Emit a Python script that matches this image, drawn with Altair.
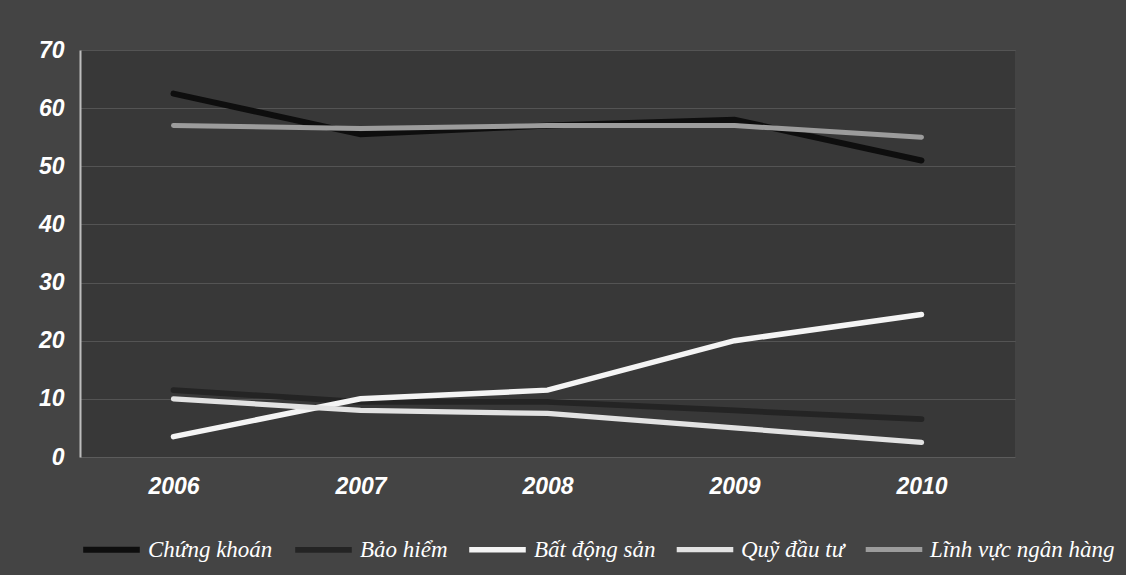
import altair as alt
import pandas as pd

years = ["2006", "2007", "2008", "2009", "2010"]
chung_khoan = [62.5, 55.5, 57, 58, 51]
bao_hiem = [11.5, 9.5, 9.5, 8, 6.5]
bat_dong_san = [3.5, 10, 11.5, 20, 24.5]
quy_dau_tu = [10, 8, 7.5, 5, 2.5]
ngan_hang = [57, 56.5, 57, 57, 55]

series_names = ["Chứng khoán", "Bảo hiểm", "Bất động sản", "Quỹ đầu tư", "Lĩnh vực ngân hàng"]
series_values = [chung_khoan, bao_hiem, bat_dong_san, quy_dau_tu, ngan_hang]
series_colors = ["#0e0e0e", "#242424", "#f4f4f4", "#e2e2e2", "#9c9c9c"]
series_widths = [6, 5, 7, 6, 3]

rows = []
for name, vals in zip(series_names, series_values):
    for y, v in zip(years, vals):
        rows.append({"Năm": y, "Giá trị": v, "Lĩnh vực": name})
df = pd.DataFrame(rows)

chart = alt.Chart(df).mark_line(strokeCap="round").encode(
    x=alt.X("Năm:N", sort=years, scale=alt.Scale(paddingOuter=0.5),
            axis=alt.Axis(title=None, labelAngle=0, labelPadding=18, ticks=False,
                          domain=False, grid=False)),
    y=alt.Y("Giá trị:Q", scale=alt.Scale(domain=[0, 70], nice=False),
            axis=alt.Axis(title=None, values=[0, 10, 20, 30, 40, 50, 60, 70],
                          labelPadding=16, ticks=False, domainColor="#bdbdbd",
                          domainWidth=2, gridColor="#8a8a8a", gridOpacity=0.35,
                          gridWidth=1)),
    color=alt.Color("Lĩnh vực:N", sort=series_names,
                    scale=alt.Scale(domain=series_names, range=series_colors),
                    legend=alt.Legend(title=None, orient="none", direction="horizontal",
                                      legendX=0, legendY=468, symbolType="stroke",
                                      symbolSize=3200, symbolStrokeWidth=6,
                                      columnPadding=10, labelOffset=5,
                                      labelFont="Liberation Serif", labelFontSize=23,
                                      labelFontStyle="italic", labelColor="white",
                                      labelLimit=400)),
    strokeWidth=alt.StrokeWidth("Lĩnh vực:N", sort=series_names,
                                scale=alt.Scale(domain=series_names, range=series_widths),
                                legend=None),
).properties(
    width=935, height=407,
    background="#444444",
    padding={"left": 80, "top": 50, "right": 111, "bottom": 118},
    autosize=alt.AutoSizeParams(type="none"),
).configure_view(
    fill="#383838", strokeWidth=0
).configure_axis(
    labelFont="Liberation Sans", labelFontSize=23, labelFontStyle="italic",
    labelFontWeight="bold", labelColor="white"
)

chart.save("out.html", embed_options={"renderer": "svg", "actions": False})
